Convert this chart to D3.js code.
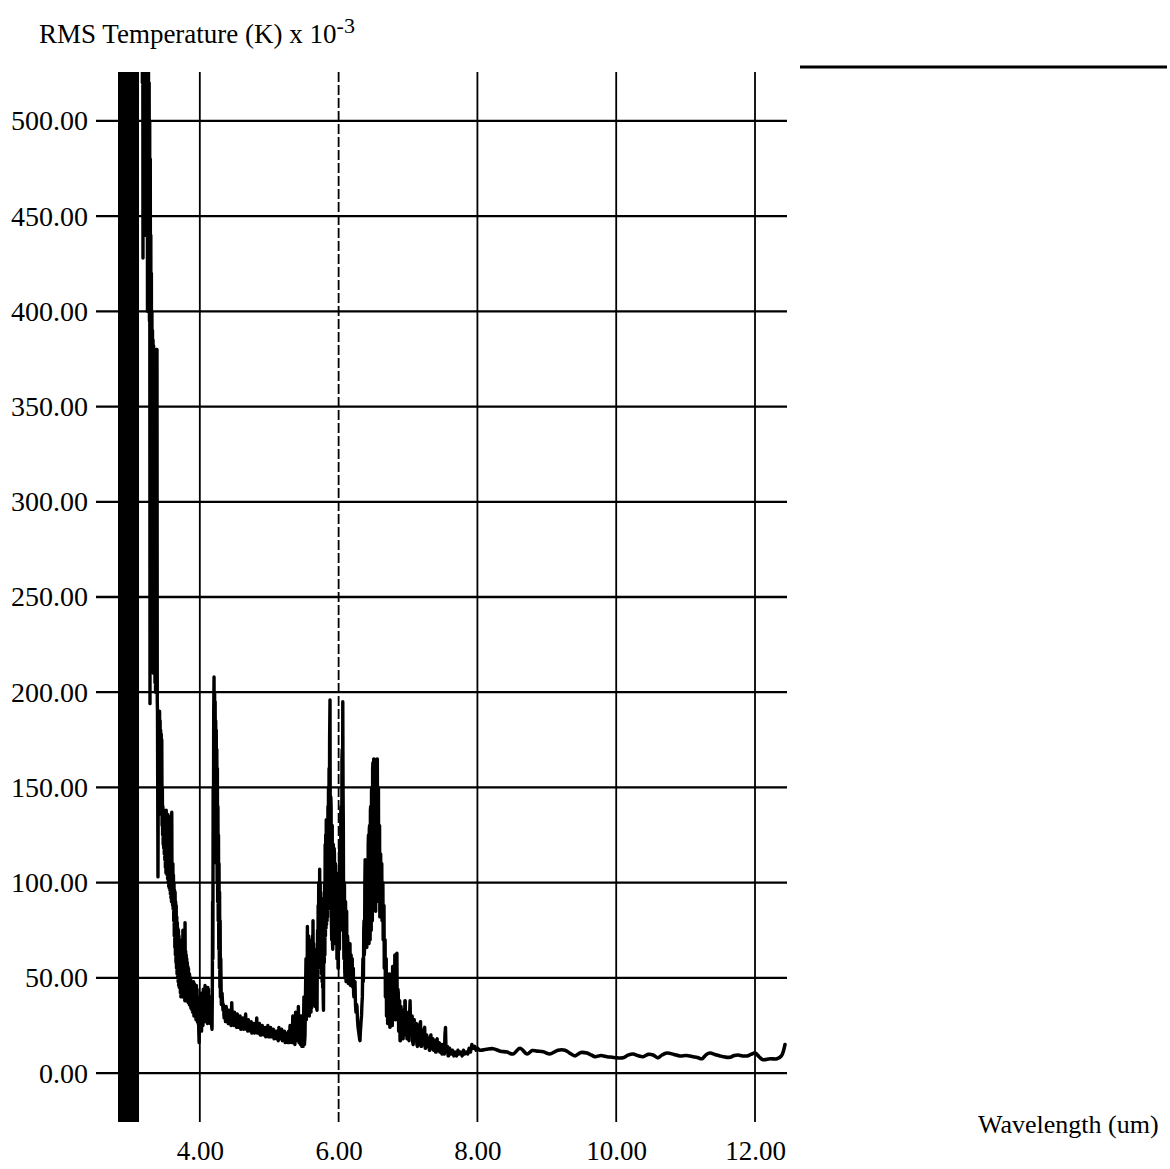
<!DOCTYPE html>
<html><head><meta charset="utf-8">
<script src="https://cdn.jsdelivr.net/npm/d3@7"></script>
<style>
body{margin:0;background:#fff}
svg{display:block}
text{font-family:"Liberation Serif","Times New Roman",serif;fill:#000}
</style>
</head><body>
<svg id="chart" width="1170" height="1169"></svg>
<script>
// ---------------- DATA ----------------
const yTicks = [0, 50, 100, 150, 200, 250, 300, 350, 400, 450, 500];
const xTicks = [4, 6, 8, 10, 12];
const yTitle = "RMS Temperature (K) x 10";
const yTitleExp = "-3";
const xTitle = "Wavelength (um)";
// detector saturated (off-scale both ways) wavelength range
const saturatedBand = [2.821, 3.124];

// steep tail after saturation [wavelength um, RMS temperature mK]
const tailSeg = [
[3.167,700],[3.172,520],[3.176,680],[3.181,428],[3.186,650],[3.190,480],[3.195,640],[3.200,520],
[3.205,620],[3.210,440],[3.214,600],[3.218,470],[3.223,590],[3.228,450],[3.233,580],[3.238,440],
[3.242,560],[3.246,400],[3.250,550],[3.255,420],[3.260,540],[3.265,400],[3.270,520],[3.274,395],
[3.278,500],[3.282,194],[3.286,480],[3.290,360],[3.294,440],[3.298,300],[3.302,420],[3.306,250],
[3.310,400],[3.314,220],[3.318,390],[3.322,240],[3.326,385],[3.330,210],[3.334,382],[3.338,230],
[3.342,380],[3.346,210],[3.350,378],[3.354,205],[3.358,375],[3.362,200],[3.366,378],[3.370,220],
[3.374,380],[3.378,205],[3.383,380],[3.387,195],[3.390,190],[3.397,103],[3.404,185],[3.408,150],
[3.412,190],[3.416,140],[3.420,190],[3.424,138],[3.428,185],[3.432,136],[3.436,180],[3.440,140],
[3.444,178],[3.448,138],[3.452,175],[3.456,130],[3.460,150],[3.464,125],[3.468,140],[3.472,120],
[3.476,138],[3.480,118],[3.484,138],[3.488,115],[3.492,137],[3.496,112],[3.500,137],[3.504,108],
[3.508,136],[3.512,105],[3.516,138],[3.520,108],[3.524,136],[3.528,104],[3.532,136],[3.536,102],
[3.540,132],[3.544,100],[3.548,130],[3.552,98],[3.556,132],[3.560,97],[3.564,128],[3.568,96],
[3.572,134],[3.576,94],[3.580,135],[3.584,92],[3.588,136],[3.592,90],[3.596,137],[3.600,90],
[3.604,110],[3.608,88],[3.612,110],[3.616,86],[3.620,104],[3.624,80],[3.628,100],[3.632,72],
[3.636,96],[3.640,66],[3.644,95],[3.648,62],[3.652,90],[3.656,58],[3.660,88],[3.664,55],
[3.668,82],[3.672,52],[3.676,79],[3.680,50],[3.684,76],[3.688,48],[3.692,75],[3.696,46],
[3.700,72],[3.704,45],[3.708,70],[3.712,48],[3.716,68],[3.720,42],[3.724,68],[3.728,40],
[3.732,66],[3.736,46],[3.740,66],[3.744,40],[3.748,70],[3.752,45],[3.756,75],[3.760,44],
[3.764,72],[3.768,42],[3.772,68],[3.776,46],[3.780,66],[3.784,38],[3.787,79],[3.792,44],
[3.796,64],[3.800,40],[3.804,62],[3.808,42],[3.812,60],[3.816,38],[3.820,58],[3.824,40],
[3.828,56],[3.832,37],[3.836,55],[3.840,40],[3.844,52],[3.848,36],[3.852,52],[3.856,38],
[3.860,50],[3.864,35],[3.868,50],[3.872,34],[3.876,48],[3.880,36],[3.884,48],[3.888,33],
[3.892,46],[3.896,32],[3.900,45],[3.905,34],[3.910,48],[3.915,30],[3.920,47],[3.925,31],
[3.930,44],[3.935,30],[3.940,44],[3.945,28],[3.950,46],[3.955,30],[3.960,44],[3.965,27],
[3.970,40],[3.975,26],[3.980,38],[3.985,22],[3.990,16],[3.995,30],[4.000,38],[4.005,24],
[4.010,40],[4.015,25],[4.020,42],[4.025,22],[4.030,40],[4.035,26],[4.040,40],[4.045,25],
[4.050,44],[4.055,28],[4.060,44],[4.068,27],[4.075,46],[4.080,30],[4.085,44],[4.090,28],
[4.095,42],[4.100,27],[4.105,42],[4.110,26],[4.115,45],[4.120,28],[4.125,44],[4.130,27],
[4.135,40],[4.140,28],[4.145,40],[4.150,26],[4.155,35],[4.160,27],[4.165,35],[4.170,25],
[4.176,23]
];
// 4.2 um peak
const co2Seg = [
[4.180,40],[4.184,90],[4.188,60],[4.192,150],[4.196,110],[4.200,190],[4.205,208],[4.209,150],
[4.213,200],[4.217,140],[4.221,195],[4.225,130],[4.229,185],[4.233,120],[4.237,180],[4.241,110],
[4.245,170],[4.249,100],[4.253,160],[4.257,90],[4.261,140],[4.265,80],[4.269,125],[4.273,65],
[4.277,110],[4.281,55],[4.285,95],[4.289,45],[4.293,80],[4.297,40],[4.302,60],[4.310,36],
[4.320,42],[4.334,33]
];
// plateau between the bands
const plateauSeg = [
[4.34,36],[4.35,29],[4.36,34],[4.37,27],[4.38,35],[4.39,28],[4.40,33],[4.41,26],[4.42,33],
[4.43,27],[4.44,31],[4.45,25],[4.46,37],[4.47,26],[4.48,31],[4.49,25],[4.50,32],[4.51,25],
[4.52,30],[4.53,24],[4.54,31],[4.55,24],[4.56,29],[4.57,25],[4.58,30],[4.59,23],[4.60,28],
[4.61,24],[4.62,29],[4.63,23],[4.64,28],[4.65,24],[4.66,31],[4.67,23],[4.68,27],[4.69,22],
[4.70,28],[4.71,23],[4.72,26],[4.73,22],[4.74,27],[4.75,21],[4.76,26],[4.77,22],[4.78,26],
[4.79,21],[4.80,25],[4.81,22],[4.82,29],[4.83,21],[4.84,25],[4.85,21],[4.86,26],[4.87,20],
[4.88,24],[4.89,20],[4.90,25],[4.91,21],[4.92,24],[4.93,20],[4.94,24],[4.95,19],[4.96,23],
[4.97,20],[4.98,25],[4.99,19],[5.00,23],[5.01,19],[5.02,24],[5.03,19],[5.04,22],[5.05,19],
[5.06,23],[5.07,18],[5.08,22],[5.09,19],[5.10,22],[5.11,18],[5.12,21],[5.13,17],[5.14,24],
[5.15,18],[5.16,22],[5.17,18],[5.18,23],[5.19,17],[5.20,21],[5.21,18],[5.22,22],[5.23,16],
[5.24,21],[5.25,17],[5.26,21],[5.27,16],[5.28,22],[5.29,16],[5.30,25],[5.31,17],[5.32,24],
[5.33,16],[5.34,30],[5.35,16],[5.36,26],[5.37,15],[5.38,32],[5.39,17],[5.40,28],[5.41,18],
[5.42,35],[5.43,16],[5.44,30],[5.45,15],[5.46,30],[5.47,14],[5.48,28],[5.49,14],[5.50,40],
[5.508,15],[5.516,20]
];
// water band 5.5 - 7 um
const waterSeg = [
[5.524,45],[5.530,60],[5.535,28],[5.540,55],[5.545,35],[5.550,77],[5.554,38],[5.558,70],
[5.562,40],[5.566,72],[5.570,32],[5.574,60],[5.578,30],[5.582,65],[5.586,36],[5.590,62],
[5.594,38],[5.598,60],[5.602,32],[5.606,66],[5.610,34],[5.614,70],[5.618,40],[5.622,72],
[5.626,45],[5.631,80],[5.636,42],[5.640,68],[5.644,40],[5.648,65],[5.652,36],[5.656,58],
[5.660,35],[5.664,55],[5.668,36],[5.672,52],[5.676,36],[5.680,50],[5.684,34],[5.689,33],
[5.693,60],[5.697,75],[5.701,50],[5.705,88],[5.709,55],[5.713,100],[5.717,58],[5.720,95],
[5.724,62],[5.727,107],[5.731,66],[5.735,100],[5.738,62],[5.742,95],[5.746,58],[5.750,92],
[5.754,52],[5.758,90],[5.762,48],[5.766,85],[5.770,45],[5.774,80],[5.778,40],[5.782,33],
[5.786,70],[5.790,85],[5.794,58],[5.798,100],[5.802,62],[5.806,120],[5.810,72],[5.814,125],
[5.818,76],[5.822,133],[5.826,78],[5.830,128],[5.834,80],[5.838,128],[5.842,82],[5.846,140],
[5.850,86],[5.854,150],[5.858,88],[5.862,160],[5.866,92],[5.870,175],[5.876,196],[5.880,120],
[5.884,110],[5.888,145],[5.892,140],[5.896,80],[5.900,70],[5.904,128],[5.908,130],[5.912,68],
[5.916,65],[5.920,120],[5.924,120],[5.928,70],[5.932,70],[5.936,118],[5.940,115],[5.944,68],
[5.948,68],[5.952,110],[5.956,110],[5.960,72],[5.964,72],[5.968,105],[5.972,105],[5.976,60],
[5.980,60],[5.984,100],[5.988,100],[5.992,55],[5.996,55],[6.000,96],[6.004,95],[6.008,65],
[6.012,65],[6.016,118],[6.020,120],[6.024,76],[6.028,75],[6.032,138],[6.036,140],[6.040,92],
[6.044,90],[6.048,165],[6.052,170],[6.056,130],[6.060,195],[6.064,150],[6.068,130],[6.072,80],
[6.076,60],[6.080,95],[6.084,100],[6.088,55],[6.092,50],[6.096,88],[6.100,90],[6.104,50],
[6.108,48],[6.112,82],[6.116,85],[6.120,52],[6.124,50],[6.128,72],[6.132,70],[6.136,48],
[6.140,47],[6.144,66],[6.148,65],[6.152,50],[6.156,50],[6.160,66],[6.164,68],[6.168,47],
[6.172,46],[6.176,60],[6.180,62],[6.184,48],[6.188,48],[6.192,58],[6.196,60],[6.200,46],
[6.204,45],[6.208,54],[6.212,55],[6.216,42],[6.220,40],[6.228,46],[6.236,48],[6.243,36],
[6.250,32],[6.258,36],[6.265,35],[6.272,28],[6.280,24],[6.288,22],[6.295,20],[6.302,18],
[6.308,17],[6.314,22],[6.320,25],[6.325,28],[6.330,30],[6.336,36],[6.342,40],[6.346,52],
[6.350,60],[6.354,48],[6.358,50],[6.362,75],[6.366,80],[6.370,62],[6.374,65],[6.378,100],
[6.382,112],[6.386,72],[6.390,70],[6.394,100],[6.398,105],[6.402,68],[6.406,66],[6.410,108],
[6.414,110],[6.418,72],[6.422,70],[6.426,120],[6.430,125],[6.434,68],[6.438,68],[6.442,128],
[6.446,130],[6.450,72],[6.454,70],[6.458,138],[6.462,140],[6.466,76],[6.470,75],[6.474,148],
[6.478,150],[6.482,80],[6.486,80],[6.490,160],[6.494,163],[6.498,88],[6.502,90],[6.506,165],
[6.510,165],[6.514,98],[6.518,100],[6.522,160],[6.526,160],[6.530,86],[6.534,85],[6.538,158],
[6.542,158],[6.546,94],[6.550,95],[6.554,165],[6.558,165],[6.562,100],[6.566,100],[6.570,150],
[6.574,150],[6.578,90],[6.582,90],[6.586,130],[6.590,130],[6.594,82],[6.598,82],[6.602,115],
[6.606,115],[6.610,84],[6.614,84],[6.618,110],[6.622,110],[6.626,80],[6.630,80],[6.634,100],
[6.638,100],[6.642,70],[6.646,70],[6.650,88],[6.654,88],[6.658,55],[6.662,55],[6.666,70],
[6.670,70],[6.674,40],[6.678,40],[6.682,60],[6.686,60],[6.690,30],[6.694,30],[6.698,50],
[6.702,50],[6.706,26],[6.710,26],[6.714,48],[6.718,48],[6.722,28],[6.726,28],[6.730,52],
[6.734,52],[6.738,24],[6.742,24],[6.746,45],[6.750,45],[6.754,30],[6.758,30],[6.762,50],
[6.766,50],[6.770,25],[6.774,25],[6.778,56],[6.782,56],[6.786,30],[6.790,30],[6.794,48],
[6.798,48],[6.802,35],[6.806,35],[6.810,62],[6.814,62],[6.818,28],[6.822,28],[6.826,50],
[6.830,50],[6.835,30],[6.840,63],[6.845,32],[6.850,30],[6.855,44],[6.860,42],[6.865,22],
[6.870,22],[6.875,38],[6.880,38],[6.885,17],[6.890,17],[6.895,35],[6.900,35],[6.905,20],
[6.910,20],[6.915,33],[6.920,33],[6.925,18],[6.930,18],[6.935,30],[6.940,30],[6.945,20],
[6.950,20],[6.955,38],[6.960,38],[6.965,22],[6.970,22],[6.975,32],[6.980,32],[6.985,18],
[6.990,18],[6.995,28],[7.000,28]
];
// decay 7 - 8 um
const decaySeg = [
[7.008,18],[7.015,17],[7.022,30],[7.030,38],[7.038,22],[7.045,20],[7.052,30],[7.060,30],
[7.068,16],[7.075,15],[7.082,27],[7.090,28],[7.098,17],[7.105,17],[7.112,25],[7.120,26],
[7.128,15],[7.135,14],[7.142,24],[7.150,25],[7.158,15],[7.165,15],[7.172,26],[7.180,27],
[7.188,14],[7.195,14],[7.202,22],[7.210,22],[7.218,15],[7.225,15],[7.232,23],[7.240,24],
[7.248,13],[7.255,13],[7.262,20],[7.270,20],[7.278,14],[7.285,14],[7.292,18],[7.300,18],
[7.308,12],[7.315,12],[7.322,19],[7.330,20],[7.338,13],[7.345,13],[7.352,18],[7.360,18],
[7.368,12],[7.375,12],[7.382,17],[7.390,17],[7.398,11],[7.405,11],[7.412,17],[7.420,18],
[7.428,12],[7.435,12],[7.442,16],[7.450,16],[7.458,11],[7.465,11],[7.472,15],[7.480,15],
[7.488,10],[7.495,10],[7.502,15],[7.510,15],[7.518,10],[7.525,10],[7.532,20],[7.540,24],
[7.548,12],[7.555,11],[7.562,14],[7.570,14],[7.578,9],[7.585,9],[7.592,13],[7.600,13],
[7.620,10],[7.640,12],[7.660,9],[7.680,11],[7.700,9],[7.720,12],[7.740,10],[7.760,11],
[7.780,9],[7.800,12],[7.820,10],[7.840,11],[7.860,10],[7.880,13],[7.900,11],[7.920,15],
[7.940,13],[7.960,14],[7.980,12],[8.000,13]
];
// long-wave region 8 - 12.5 um
const longwaveSeg = [
[8.000,13],[8.037,12],[8.130,12.5],[8.225,12.8],[8.330,11.5],[8.427,11],[8.513,10],[8.614,13],
[8.715,10],[8.790,11.8],[8.859,11.5],[8.950,11.2],[9.046,10],[9.161,12],[9.262,12],[9.330,10.5],
[9.406,9],[9.490,10.8],[9.579,10.5],[9.640,9.5],[9.695,8.6],[9.780,9.2],[9.867,8.6],[9.940,8.3],
[10.012,8],[10.098,8],[10.170,9.4],[10.242,10],[10.310,9.2],[10.386,8.6],[10.460,9.8],
[10.530,9.5],[10.602,8],[10.660,9.5],[10.732,10.5],[10.830,9.8],[10.919,9],[11.010,9.2],
[11.107,8.6],[11.170,8.2],[11.236,7.5],[11.300,9.8],[11.352,10.5],[11.420,9.8],[11.496,9],
[11.570,8.4],[11.640,8.3],[11.700,9.2],[11.755,9.5],[11.820,9],[11.885,9],[11.940,9.8],
[12.000,10.5],[12.060,8.5],[12.115,7],[12.216,7.5],[12.317,7.5],[12.380,9],[12.432,15]
];

// ---------------- CHART ----------------
const svg = d3.select("#chart");
const plot = {left: 96, right: 787, top: 72, bottom: 1122};
const x = d3.scaleLinear().domain([2.504, 12.461]).range([plot.left, plot.right]);
const y = d3.scaleLinear().domain([-25.7, 525.7]).range([plot.bottom, plot.top]);

svg.append("defs").append("clipPath").attr("id", "clip")
  .append("rect").attr("x", plot.left).attr("y", plot.top)
  .attr("width", plot.right - plot.left).attr("height", plot.bottom - plot.top);

// horizontal grid
svg.append("g").selectAll("line").data(yTicks).join("line")
  .attr("x1", plot.left).attr("x2", plot.right)
  .attr("y1", d => y(d)).attr("y2", d => y(d))
  .attr("stroke", "#000").attr("stroke-width", 2.3);

// vertical grid
svg.append("g").selectAll("line").data(xTicks).join("line")
  .attr("x1", d => x(d)).attr("x2", d => x(d))
  .attr("y1", plot.top).attr("y2", plot.bottom)
  .attr("stroke", "#000").attr("stroke-width", 1.8)
  .attr("stroke-dasharray", d => d === 6 ? "10,3" : null);

// y axis labels
const yAxis = d3.axisLeft(y).tickValues(yTicks).tickFormat(d3.format(".2f"))
  .tickSize(0).tickPadding(8);
const gy = svg.append("g").attr("transform", `translate(${plot.left},0)`).call(yAxis);
gy.select(".domain").remove();
gy.selectAll("text").style("font-family", '"Liberation Serif", serif').style("font-size", "28px").attr("fill", "#000");

// x axis labels
const xAxis = d3.axisBottom(x).tickValues(xTicks).tickFormat(d3.format(".2f"))
  .tickSize(0).tickPadding(19);
const gx = svg.append("g").attr("transform", `translate(0,${plot.bottom})`).call(xAxis);
gx.select(".domain").remove();
gx.selectAll("text").style("font-family", '"Liberation Serif", serif').style("font-size", "27px").attr("fill", "#000");

const g = svg.append("g").attr("clip-path", "url(#clip)");

// saturated region
g.append("rect")
  .attr("x", x(saturatedBand[0]))
  .attr("width", x(saturatedBand[1]) - x(saturatedBand[0]))
  .attr("y", y(y.domain()[1])).attr("height", y(y.domain()[0]) - y(y.domain()[1]))
  .attr("fill", "#000");

const noisy = [].concat(tailSeg, co2Seg, plateauSeg, waterSeg, decaySeg);
const line = d3.line().x(d => x(d[0])).y(d => y(d[1]));
g.append("path").datum(noisy)
  .attr("d", line).attr("fill", "none").attr("stroke", "#000")
  .attr("stroke-width", 3.4).attr("stroke-linejoin", "round").attr("stroke-linecap", "round");

const smooth = d3.line().x(d => x(d[0])).y(d => y(d[1])).curve(d3.curveCatmullRom.alpha(0.5));
g.append("path").datum(longwaveSeg)
  .attr("d", smooth).attr("fill", "none").attr("stroke", "#000")
  .attr("stroke-width", 3.6).attr("stroke-linejoin", "round").attr("stroke-linecap", "round");

// titles
const t = svg.append("text").attr("x", 39).attr("y", 43).style("font-size", "27px");
t.append("tspan").text(yTitle);
t.append("tspan").attr("dy", -10).style("font-size", "22px").text(yTitleExp);

svg.append("text").attr("x", 978).attr("y", 1133).style("font-size", "26px").text(xTitle);

// stray rule at top right of the original plot sheet
svg.append("line").attr("x1", 800).attr("x2", 1167).attr("y1", 67).attr("y2", 67)
  .attr("stroke", "#000").attr("stroke-width", 3);
</script>
</body></html>
